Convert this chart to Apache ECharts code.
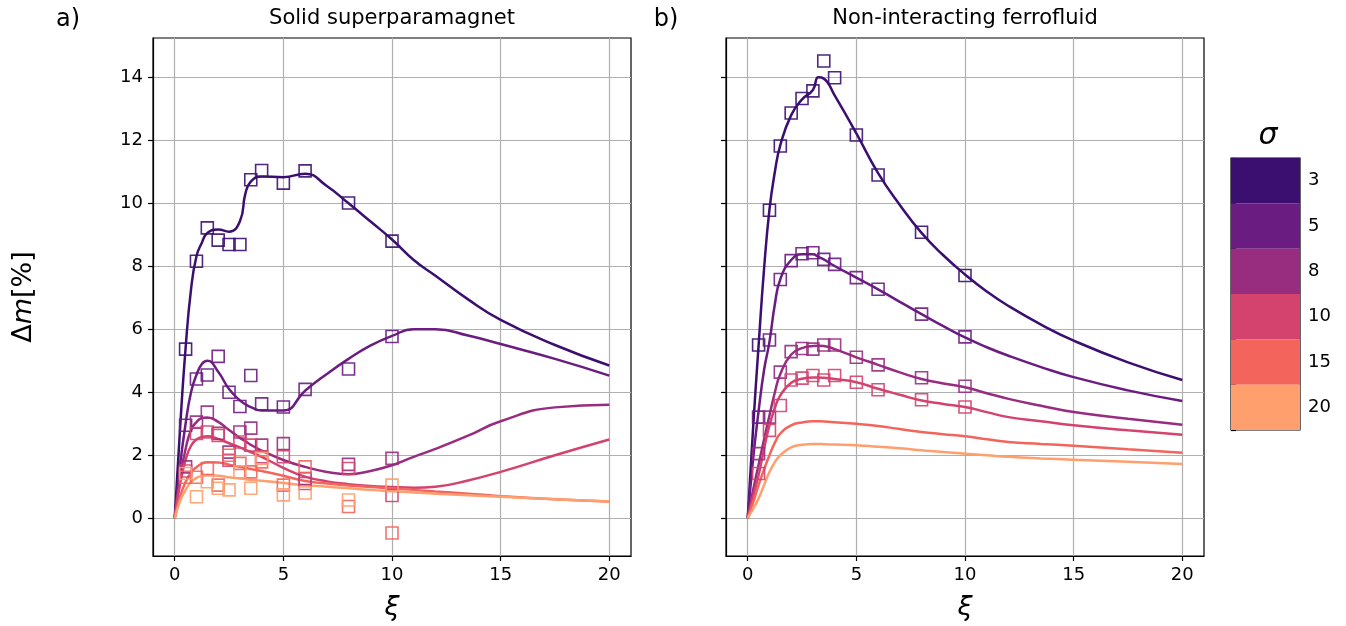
<!DOCTYPE html>
<html>
<head>
<meta charset="utf-8">
<script src="https://cdn.jsdelivr.net/npm/echarts@6/dist/echarts.min.js"></script>
<style>
  html, body { margin: 0; padding: 0; background: #fff; }
  #chart { width: 1346px; height: 626px; }
</style>
</head>
<body>
<div id="chart"></div>
<script>
// sigma classes and their colours (magma samples)
const sigmaLabels = ['3', '5', '8', '10', '15', '20'];
const sigmaColors = ['#3b0f70', '#6a1c81', '#982d80', '#d3436e', '#f3655c', '#fe9f6d'];

const xTicks = [0, 5, 10, 15, 20];
const yTicks = [0, 2, 4, 6, 8, 10, 12, 14];

// xi values where the fitted curves were read
const xFit = [0, 0.25, 0.5, 0.75, 1, 1.25, 1.5, 2, 2.5, 3, 3.25, 3.5, 4, 5, 6, 7, 8, 9, 10, 11, 12, 13.5, 15, 17.5, 20];

// a) solid superparamagnet, curves
const fitSolid3  = [0, 2.9, 5.4, 7.27, 8.32, 8.75, 9.06, 9.17, 9.1, 9.43, 10.3, 10.69, 10.85, 10.83, 10.94, 10.55, 10.0, 9.43, 8.85, 8.2, 7.7, 6.95, 6.3, 5.5, 4.85];
const fitSolid5  = [0, 1.7, 3.0, 4.0, 4.55, 4.9, 5.0, 4.65, 4.1, 3.74, 3.62, 3.53, 3.42, 3.42, 4.05, 4.58, 5.06, 5.48, 5.79, 6.0, 6.0, 5.8, 5.53, 5.06, 4.53];
const fitSolid8  = [0, 1.3, 2.2, 2.8, 3.05, 3.18, 3.2, 3.06, 2.8, 2.55, 2.45, 2.33, 2.15, 1.85, 1.63, 1.47, 1.4, 1.5, 1.68, 1.95, 2.2, 2.62, 3.08, 3.52, 3.6];
const fitSolid10 = [0, 1.1, 1.85, 2.3, 2.5, 2.58, 2.6, 2.52, 2.38, 2.25, 2.17, 2.1, 1.95, 1.6, 1.32, 1.17, 1.08, 1.02, 0.99, 0.97, 1.0, 1.2, 1.47, 2.0, 2.5];
const fitSolid15 = [0, 0.7, 1.15, 1.45, 1.62, 1.73, 1.78, 1.77, 1.7, 1.63, 1.6, 1.56, 1.5, 1.35, 1.18, 1.1, 1.04, 0.99, 0.95, 0.9, 0.85, 0.78, 0.7, 0.6, 0.53];
const fitSolid20 = [0, 0.55, 0.9, 1.15, 1.28, 1.34, 1.37, 1.35, 1.3, 1.26, 1.24, 1.22, 1.19, 1.12, 1.05, 1.0, 0.95, 0.9, 0.86, 0.82, 0.78, 0.73, 0.68, 0.6, 0.53];

// b) non-interacting ferrofluid, curves
const fitFluid3  = [0, 2.9, 5.48, 7.9, 9.8, 11.0, 11.85, 12.8, 13.3, 13.6, 14.0, 13.96, 13.43, 12.22, 10.96, 9.95, 9.06, 8.35, 7.74, 7.2, 6.74, 6.15, 5.64, 4.95, 4.39];
const fitFluid5  = [0, 1.9, 3.4, 4.7, 5.6, 6.8, 7.59, 8.2, 8.38, 8.38, 8.3, 8.22, 8.01, 7.64, 7.27, 6.87, 6.48, 6.1, 5.74, 5.43, 5.16, 4.8, 4.48, 4.06, 3.72];
const fitFluid8  = [0, 0.9, 1.7, 2.5, 3.26, 4.0, 4.58, 5.2, 5.4, 5.47, 5.48, 5.47, 5.37, 5.11, 4.87, 4.63, 4.42, 4.28, 4.16, 3.97, 3.79, 3.57, 3.37, 3.16, 2.97];
const fitFluid10 = [0, 0.7, 1.37, 2.2, 2.95, 3.5, 3.9, 4.3, 4.43, 4.47, 4.47, 4.46, 4.42, 4.32, 4.11, 3.92, 3.74, 3.63, 3.53, 3.37, 3.21, 3.08, 2.95, 2.79, 2.65];
const fitFluid15 = [0, 0.5, 1.05, 1.55, 2.0, 2.4, 2.69, 2.95, 3.04, 3.08, 3.08, 3.07, 3.05, 3.0, 2.93, 2.83, 2.74, 2.67, 2.6, 2.51, 2.42, 2.36, 2.3, 2.19, 2.08];
const fitFluid20 = [0, 0.3, 0.63, 1.05, 1.47, 1.78, 2.0, 2.25, 2.33, 2.36, 2.36, 2.35, 2.34, 2.32, 2.27, 2.22, 2.16, 2.1, 2.05, 2.0, 1.95, 1.9, 1.86, 1.79, 1.72];

// simulation points
const xSim = [0.5, 1, 1.5, 2, 2.5, 3, 3.5, 4, 5, 6, 8, 10];

const simSolid3  = [5.37, 8.16, 9.22, 8.83, 8.69, 8.69, 10.75, 11.04, 10.64, 11.03, 10.01, 8.8];
const simSolid5  = [2.95, 4.42, 4.55, 5.14, 4.0, 3.55, 4.53, 3.63, 3.53, 4.09, 4.74, 5.77];
const simSolid8  = [1.63, 3.05, 3.37, 2.7, 2.1, 2.74, 2.86, 2.32, 2.37, 1.26, 1.71, 1.9];
const simSolid10 = [1.5, 2.69, 2.74, 2.63, 1.84, 2.42, 2.32, 1.95, 1.95, 1.1, 1.58, 0.72];
const simSolid15 = [1.3, 1.3, 1.58, 1.05, 2.0, 1.74, 1.47, 1.79, 1.05, 1.63, 0.37, -0.47];
const simSolid20 = [1.42, 0.68, 1.16, 0.95, 0.9, 1.47, 0.95, 1.9, 0.74, 0.8, 0.58, 1.05];

const simFluid3  = [5.5, 9.78, 11.82, 12.87, 13.33, 13.57, 14.52, 13.99, 12.17, 10.9, 9.08, 7.71];
const simFluid5  = [3.21, 5.66, 7.58, 8.18, 8.4, 8.43, 8.22, 8.06, 7.64, 7.27, 6.48, 5.76];
const simFluid8  = [2.05, 3.21, 4.64, 5.29, 5.39, 5.37, 5.5, 5.5, 5.11, 4.87, 4.46, 4.19];
const simFluid10 = [1.42, 2.79, 3.58, 4.39, 4.45, 4.53, 4.39, 4.53, 4.32, 4.08, 3.76, 3.53];

const fitCurves = [
  [fitSolid3, fitSolid5, fitSolid8, fitSolid10, fitSolid15, fitSolid20],
  [fitFluid3, fitFluid5, fitFluid8, fitFluid10, fitFluid15, fitFluid20]
];
const simPoints = [
  [simSolid3, simSolid5, simSolid8, simSolid10, simSolid15, simSolid20],
  [simFluid3, simFluid5, simFluid8, simFluid10]
];

const font = 'DejaVu Sans';
const gridLine = { show: true, lineStyle: { color: '#b0b0b0', width: 1.2 } };
const blackLine = { color: '#000', width: 1.2 };

const panels = [
  { left: 153, width: 478 },
  { left: 726, width: 478 }
];

let grids = [], xAxes = [], yAxes = [], series = [];
panels.forEach((p, i) => {
  grids.push({ left: p.left, width: p.width, top: 38, bottom: 68, show: true, borderColor: '#000', borderWidth: 1.2 });
  xAxes.push({
    type: 'value', gridIndex: i, min: -1, max: 21,
    name: 'ξ', nameLocation: 'middle', nameGap: 38,
    nameTextStyle: { fontFamily: font, fontSize: 27, fontStyle: 'italic', color: '#000' },
    axisLine: { show: true, onZero: false, lineStyle: blackLine },
    axisTick: { show: true, length: 5, lineStyle: blackLine, customValues: xTicks },
    axisLabel: { fontFamily: font, fontSize: 18, color: '#000', margin: 10, customValues: xTicks },
    splitLine: gridLine
  });
  yAxes.push({
    type: 'value', gridIndex: i, min: -1.2, max: 15.25,
    name: i === 0 ? '{d|Δ}{m|m}{d|[%]}' : '', nameLocation: 'middle', nameGap: 116, nameRotate: 90,
    nameTextStyle: { rich: {
      d: { fontFamily: font, fontSize: 27, color: '#000' },
      m: { fontFamily: font, fontSize: 27, fontStyle: 'italic', color: '#000' }
    } },
    axisLine: { show: true, onZero: false, lineStyle: blackLine },
    axisTick: { show: true, length: 5, lineStyle: blackLine, customValues: yTicks },
    axisLabel: { show: i === 0, fontFamily: font, fontSize: 18, color: '#000', margin: 10, customValues: yTicks },
    splitLine: gridLine
  });
  fitCurves[i].forEach((vals, k) => {
    series.push({
      type: 'line', xAxisIndex: i, yAxisIndex: i,
      data: xFit.map((x, j) => [x, vals[j]]),
      showSymbol: false, smooth: 0.5,
      lineStyle: { color: sigmaColors[k], width: 2.5 },
      itemStyle: { color: sigmaColors[k] },
      z: 3, silent: true
    });
  });
  simPoints[i].forEach((vals, k) => {
    series.push({
      type: 'scatter', xAxisIndex: i, yAxisIndex: i,
      data: xSim.map((x, j) => [x, vals[j]]),
      symbol: 'rect', symbolSize: 12,
      itemStyle: { color: 'rgba(0,0,0,0)', borderColor: sigmaColors[k], borderWidth: 1.6, opacity: 0.9 },
      z: 4, silent: true
    });
  });
});

// colour bar
grids.push({ left: 1231, top: 158, width: 69, height: 272, show: true, borderColor: '#000', borderWidth: 1.2 });
xAxes.push({ type: 'value', gridIndex: 2, min: 0, max: 1, show: false });
yAxes.push({
  type: 'category', gridIndex: 2, data: sigmaLabels, inverse: true, position: 'right',
  axisLine: { show: false },
  axisTick: { show: true, length: 5, alignWithLabel: false, lineStyle: blackLine },
  axisLabel: { fontFamily: font, fontSize: 18, color: '#000', margin: 8 },
  splitLine: { show: false }
});
series.push({
  type: 'bar', xAxisIndex: 2, yAxisIndex: 2, barWidth: '100%', silent: true,
  data: sigmaColors.map(c => ({ value: 1, itemStyle: { color: c } }))
});

const chart = echarts.init(document.getElementById('chart'));
chart.setOption({
  animation: false,
  backgroundColor: '#fff',
  grid: grids,
  xAxis: xAxes,
  yAxis: yAxes,
  series: series,
  graphic: [
    { type: 'text', x: 68, y: 20, style: { text: 'a)', fontFamily: font, fontSize: 24, fill: '#000', align: 'center', verticalAlign: 'middle' } },
    { type: 'text', x: 666, y: 20, style: { text: 'b)', fontFamily: font, fontSize: 24, fill: '#000', align: 'center', verticalAlign: 'middle' } },
    { type: 'text', x: 392, y: 19, style: { text: 'Solid superparamagnet', fontFamily: font, fontSize: 21, fill: '#000', align: 'center', verticalAlign: 'middle' } },
    { type: 'text', x: 965, y: 19, style: { text: 'Non-interacting ferrofluid', fontFamily: font, fontSize: 21, fill: '#000', align: 'center', verticalAlign: 'middle' } },
    { type: 'text', x: 1268, y: 136, style: { text: 'σ', fontFamily: font, fontSize: 30, fontStyle: 'italic', fill: '#000', align: 'center', verticalAlign: 'middle' } }
  ]
});
</script>
</body>
</html>
